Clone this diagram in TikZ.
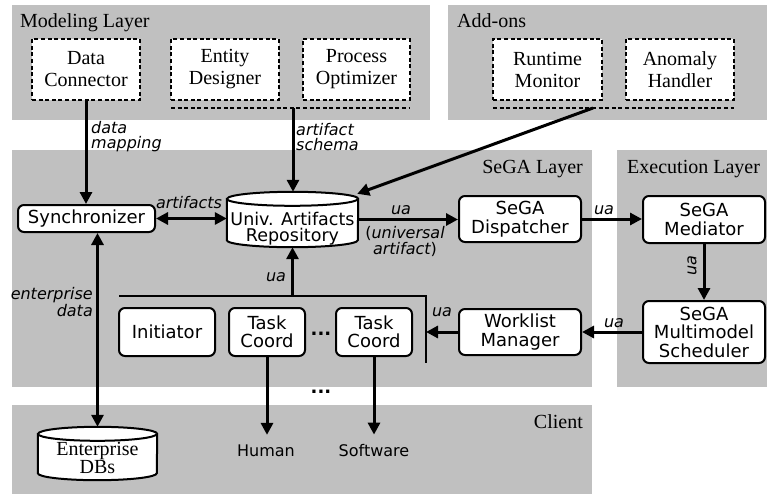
\documentclass[tikz,border=0pt]{standalone}
\usepackage{fontspec}
\setmainfont{Liberation Serif}
\setsansfont{DejaVu Sans}
\usetikzlibrary{arrows.meta}
\definecolor{layergray}{RGB}{192,192,192}

% fonts
\newcommand\titlefont{\rmfamily\fontsize{20}{22}\selectfont}
\newcommand\boxfont{\sffamily\fontsize{18}{18.5}\selectfont}
\newcommand\lblfont{\sffamily\itshape\fontsize{16}{15}\selectfont}
\newcommand\clifont{\sffamily\fontsize{16}{18}\selectfont}

% cylinder outline drawn around an (empty) node: name, half width
\newcommand\cylaround[2]{%
  \filldraw[cylline] ([yshift=-7pt]#1.north west) -- ([yshift=7pt]#1.south west)
    arc[start angle=180,end angle=360,x radius=#2pt,y radius=7pt]
    -- ([yshift=-7pt]#1.north east)
    arc[start angle=0,end angle=180,x radius=#2pt,y radius=7pt] -- cycle;
  \draw[cylline] ([yshift=-7pt]#1.north west)
    arc[start angle=180,end angle=360,x radius=#2pt,y radius=7pt];}

\tikzset{
  bigtri/.tip={Triangle[length=12pt,width=12pt]},
  layer/.style={fill=layergray,draw=none},
  title/.style={font=\titlefont,inner sep=0pt},
  dbox/.style={draw,fill=white,dash pattern=on 4pt off 2.6pt,line width=2pt,
    minimum width=108pt,minimum height=61pt,inner sep=0pt,align=center,font=\titlefont},
  dline/.style={dash pattern=on 4pt off 2.6pt,line width=2pt},
  rbox/.style={draw,fill=white,rounded corners=6pt,line width=2pt,inner sep=0pt,
    align=center,font=\boxfont,minimum width=122pt,minimum height=46pt},
  cylnode/.style={inner sep=0pt,draw=none},
  cylline/.style={line width=2pt,fill=white},
  conn/.style={line width=3pt,-bigtri},
  conn2/.style={line width=3pt,bigtri-bigtri},
  bracket/.style={line width=2.4pt},
  lbl/.style={font=\lblfont,inner sep=0pt},
  cli/.style={font=\clifont,inner sep=0pt},
}

\begin{document}
\begin{tikzpicture}[x=1pt,y=-1pt]
\useasboundingbox (0,0) rectangle (767,495);

% layer backgrounds
\fill[layer] (12,5) rectangle (430,120);
\fill[layer] (448,5) rectangle (767,120);
\fill[layer] (12,150) rectangle (592,387);
\fill[layer] (617,150) rectangle (767,387);
\fill[layer] (12,405) rectangle (592,494);

% layer titles
\node[title,anchor=base west] (tmod) at (20,28) {Modeling Layer};
\node[title,anchor=base west] (tadd) at (457,28) {Add-ons};
\node[title,anchor=base east] (tsega) at (583,173) {SeGA Layer};
\node[title,anchor=base west] (texec) at (627,173) {Execution Layer};
\node[title,anchor=base east] (tcli) at (583,428) {Client};

% modeling tools and add-ons
\node[dbox] (dc) at (86,69.5) {Data\\Connector};
\node[dbox] (ed) at (225,69.5) {Entity\\Designer};
\node[dbox,minimum width=107pt] (po) at (356.5,69.5) {Process\\Optimizer};
\node[dbox,minimum width=109pt] (rm) at (547.5,69.5) {Runtime\\Monitor};
\node[dbox] (ah) at (680,69.5) {Anomaly\\Handler};

\coordinate (mdl) at (171,108);
\coordinate (mdr) at (410,108);
\coordinate (schema) at (293,108);
\coordinate (aol) at (493,108);
\coordinate (aor) at (734,108);
\coordinate (aomid) at (593,108);
\draw[dline] (mdl) -- (mdr);
\draw[dline] (aol) -- (aor);

% SeGA layer
\node[rbox,minimum width=137pt,minimum height=27pt] (sync) at (86.5,218.5) {Synchronizer};
\node[cylnode,minimum width=131pt,minimum height=55pt] (uar) at (292.5,219.5) {};
\cylaround{uar}{65.5}
\node[font=\sffamily\fontsize{17.5}{16.5}\selectfont,align=center,inner sep=0pt] (uartxt) at (292.5,228.5) {Univ. Artifacts\\Repository};
\node[rbox] (disp) at (520,219) {SeGA\\Dispatcher};
\node[rbox] (wlm) at (520,332) {Worklist\\Manager};
\node[rbox,minimum width=96pt,minimum height=48pt] (init) at (167,332) {Initiator};
\node[rbox,minimum width=76pt,minimum height=48pt] (tc1) at (267,332) {Task\\Coord};
\node[rbox,minimum width=76pt,minimum height=48pt] (tc2) at (374,332) {Task\\Coord};
\node[font=\boxfont\bfseries,inner sep=0pt] (dots1) at (321,334) {...};
\node[font=\boxfont\bfseries,inner sep=0pt] (dots2) at (321,392) {...};

% execution layer
\node[rbox,minimum height=47pt] (med) at (704,219.5) {SeGA\\Mediator};
\node[rbox,minimum height=62pt] (sched) at (704,332) {SeGA\\Multimodel\\Scheduler};

% client
\node[cylnode,minimum width=119pt,minimum height=53pt] (dbs) at (97.5,453.5) {};
\cylaround{dbs}{59.5}
\node[font=\rmfamily\fontsize{20}{16}\selectfont,align=center,inner sep=0pt] (dbstxt) at (97.5,458) {Enterprise\\DBs};
\node[cli] (human) at (266,451) {Human};
\node[cli] (soft) at (374,451) {Software};

% bracket around the coordinators
\coordinate (bl) at (119,296);
\coordinate (br) at (426,296);
\coordinate (bb) at (426,363);
\draw[bracket] (bl) -- (br) -- (bb);

% connectors
\draw[conn] (dc.south) -- (dc.south |- sync.north);
\draw[conn] (schema) -- (schema |- uar.north);
\draw[conn] (aomid) -- ([xshift=-1pt,yshift=-2pt]uar.north east);
\draw[conn2] (sync.east) -- (sync.east -| uar.west);
\draw[conn] (uar.east) -- (uar.east -| disp.west);
\draw[conn] (disp.east) -- (disp.east -| med.west);
\draw[conn] (med.south) -- (sched.north);
\draw[conn] (sched.west) -- (sched.west -| wlm.east);
\draw[conn] (wlm.west) -- (wlm.west -| br);
\draw[conn] (bl -| uar.south) -- (uar.south);
\draw[conn2] (sync.south -| dbs.north) -- (dbs.north);
\draw[conn,shorten >=10pt] (tc1.south) -- (tc1.south |- human.north);
\draw[conn,shorten >=10pt] (tc2.south) -- (tc2.south |- soft.north);

% connector labels
\node[lbl,anchor=west,align=left] (lmap) at (91,137) {data\\mapping};
\node[lbl,anchor=west,align=left] (lschema) at (296,137) {artifact\\schema};
\node[lbl] (lart) at (189,203) {artifacts};
\node[lbl] (lua1) at (401,210) {ua};
\node[lbl,align=center,font=\sffamily\itshape\fontsize{16}{16}\selectfont] (luniv) at (405,241) {{\upshape(}universal\\artifact{\upshape)}};
\node[lbl] (lua2) at (604,210) {ua};
\node[lbl,rotate=90] (lua3) at (692,266) {ua};
\node[lbl] (lua4) at (614,323) {ua};
\node[lbl] (lua5) at (442,312) {ua};
\node[lbl] (lua6) at (276,277) {ua};
\node[lbl,anchor=east,align=right] (lent) at (93,302) {enterprise\\data};
\end{tikzpicture}
\end{document}
